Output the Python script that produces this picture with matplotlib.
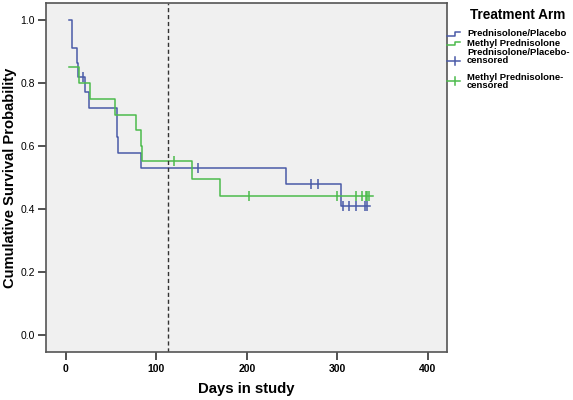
import numpy as np
import matplotlib
matplotlib.use("Agg")
import matplotlib.pyplot as plt
from matplotlib.lines import Line2D

# Prednisolone/Placebo arm: step times and survival after each step
plac_t = [3, 7, 12, 13, 21, 26, 56, 57, 83, 243, 304, 336]
plac_s = [1.0, 0.91, 0.864, 0.818, 0.77, 0.72, 0.63, 0.577, 0.529, 0.478, 0.41, 0.41]
plac_cens_t = [19, 146, 271, 279, 306, 313, 321, 330, 333]
plac_cens_s = [0.818, 0.529, 0.478, 0.478, 0.41, 0.41, 0.41, 0.41, 0.41]

# Methyl Prednisolone arm
meth_t = [3, 14, 27, 54, 77, 83, 84, 139, 170, 339]
meth_s = [0.85, 0.80, 0.75, 0.70, 0.65, 0.60, 0.551, 0.496, 0.441, 0.441]
meth_cens_t = [119, 202, 299, 320, 327, 331, 333, 335]
meth_cens_s = [0.551, 0.441, 0.441, 0.441, 0.441, 0.441, 0.441, 0.441]

ref_day = 113
xticks = [0, 100, 200, 300, 400]
yticks = [0.0, 0.2, 0.4, 0.6, 0.8, 1.0]

blue = '#4a5aa8'
green = '#4cbb4c'
fam = 'Liberation Sans'

fig = plt.figure(figsize=(5.73, 4.0), dpi=100)
ax = fig.add_axes([46/573, 48/400, 401/573, 349/400])
ax.set_facecolor('#f0f0f0')

ax.step(plac_t, plac_s, where='post', color=blue, lw=1.1)
ax.step(meth_t, meth_s, where='post', color=green, lw=1.1)
ax.plot(plac_cens_t, plac_cens_s, ls='none', marker='|', ms=7, mew=1.1, color=blue)
ax.plot(meth_cens_t, meth_cens_s, ls='none', marker='|', ms=7, mew=1.1, color=green)
ax.axvline(ref_day, color='#333333', lw=1, ls=(0, (3, 2)))

ax.set_xlim(-22, 421)
ax.set_ylim(-0.054, 1.054)
ax.set_xticks(xticks)
ax.set_yticks(yticks)
ax.set_yticklabels(['%.1f' % v for v in yticks], fontfamily=fam, fontsize=7.5)
ax.set_xticklabels([str(v) for v in xticks], fontfamily=fam, fontweight='bold', fontsize=7.5)
ax.tick_params(axis='both', direction='out', length=6, width=1.2, color='#333333', pad=2)
ax.tick_params(axis='x', pad=3)
for sp in ax.spines.values():
    sp.set_color('#555555')
    sp.set_linewidth(1.2)

ax.set_xlabel('Days in study', fontsize=10.7, fontweight='bold', fontfamily=fam, va='center')
ax.set_ylabel('Cumulative Survival Probability', fontsize=10.6, fontweight='bold', fontfamily=fam,
              va='center')
ax.xaxis.set_label_coords(0.5, (352 - 389) / 349)
ax.yaxis.set_label_coords((10 - 46) / 401, 0.5)

# legend drawn by hand, SPSS style
fig.text(470/573, 1 - 15/400, 'Treatment Arm', fontsize=9.8, fontweight='bold', fontfamily=fam,
         va='center')
# (icon kind, colour, label, text centre y px, icon y px)
entries = [
    ('step', blue, 'Prednisolone/Placebo', 34, 34),
    ('step', green, 'Methyl Prednisolone', 43.5, 43.5),
    ('plus', blue, 'Prednisolone/Placebo-\ncensored', 56.5, 61),
    ('plus', green, 'Methyl Prednisolone-\ncensored', 81.5, 80.5),
]
for kind, col, lab, yp, yc in entries:
    if kind == 'step':
        xs = np.array([447, 455, 455, 460]) / 573
        ys = np.array([yc + 1.5, yc + 1.5, yc - 2, yc - 2])
        fig.add_artist(Line2D(xs, 1 - ys / 400, color=col, lw=1.1))
    else:
        fig.add_artist(Line2D([447/573, 460/573], [1 - yc/400] * 2, color=col, lw=1.1))
        fig.add_artist(Line2D([455/573] * 2, [1 - (yc - 4)/400, 1 - (yc + 4)/400], color=col, lw=1.1))
    fig.text(467/573, 1 - yp/400, lab, fontsize=6.8, fontweight='bold', fontfamily=fam,
             va='center', linespacing=0.85)

fig.savefig('out.png', dpi=100)
